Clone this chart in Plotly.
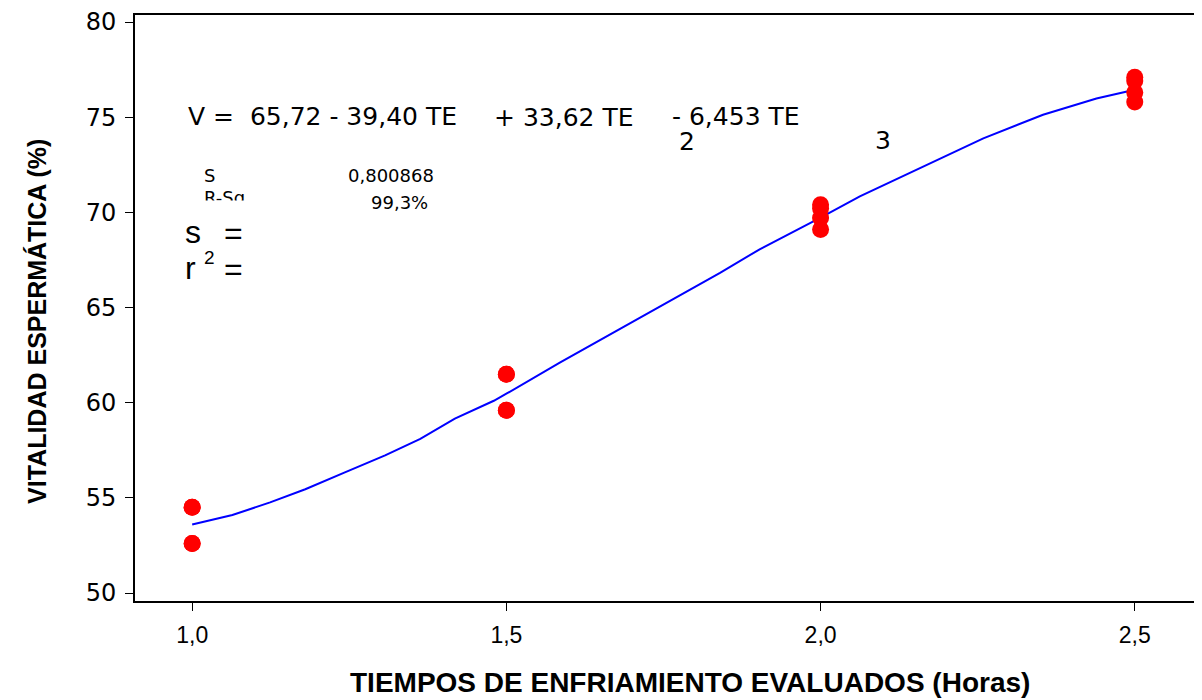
import plotly.graph_objects as go

x_obs = [1.0, 1.0, 1.0, 1.0, 1.5, 1.5, 1.5, 1.5, 2.0, 2.0, 2.0, 2.0, 2.5, 2.5, 2.5, 2.5]
y_obs = [54.5, 54.5, 52.6, 52.6, 61.5, 61.5, 59.6, 59.6, 70.4, 70.2, 69.7, 69.1, 77.1, 76.9, 76.3, 75.8]

# Fitted curve
x_fit = [1.0, 1.064, 1.124, 1.18, 1.243, 1.307, 1.363, 1.418, 1.48, 1.5, 1.585, 1.713,
         1.84, 1.903, 2.0, 2.0625, 2.158, 2.259, 2.354, 2.439, 2.5]
y_fit = [53.6, 54.1, 54.76, 55.45, 56.34, 57.23, 58.1, 59.16, 60.1, 60.47, 62.11, 64.47,
         66.82, 68.06, 69.72, 70.84, 72.32, 73.89, 75.13, 75.98, 76.44]

x_ticks = [1.0, 1.5, 2.0, 2.5]
y_ticks = [50, 55, 60, 65, 70, 75, 80]

# page has an 8px body margin: figure is drawn starting at (8, 8)
OFF = 8
W, H = 1202 - OFF, 700 - OFF
ML, MR, MT, MB = 135 - OFF, 0, 13 - OFF, H - (601 - OFF)
PW, PH = W - ML - MR, H - MT - MB


def px(X):
    return (X - OFF - ML) / PW


def py(Y):
    return (H - MB - (Y - OFF)) / PH


fig = go.Figure()
fig.add_trace(go.Scatter(x=x_fit, y=y_fit, mode="lines",
                         line=dict(color="#0000ff", width=2), showlegend=False))
fig.add_trace(go.Scatter(x=x_obs, y=y_obs, mode="markers",
                         marker=dict(color="#ff0000", size=17), showlegend=False))

LIB = "Liberation Sans, Arial, sans-serif"
DJV = "DejaVu Sans, Verdana, sans-serif"


def ann(text, X, Y, size, family, **kw):
    d = dict(text=text, x=px(X), y=py(Y), xref="paper", yref="paper",
             xanchor="left", yanchor="middle", showarrow=False,
             font=dict(size=size, family=family, color="black"))
    d.update(kw)
    return d


annotations = [
    ann("V =  65,72 - 39,40 TE", 186, 115, 25, DJV),
    ann("+ 33,62 TE", 492, 116, 25, DJV),
    ann("- 6,453 TE", 670, 115, 25, DJV),
    ann("2", 677, 140, 25, DJV),
    ann("3", 873, 139, 25, DJV),
    ann("S", 202, 174, 18, DJV),
    ann("0,800868", 346, 174, 18, DJV),
    ann("R-Sq", 202, 196, 18, DJV),
    # mask that hides the lower part of the "R-Sq" label
    dict(text="", x=px(196), y=py(199), xref="paper", yref="paper",
         xanchor="left", yanchor="top", showarrow=False, width=70, height=20,
         bgcolor="white", borderpad=0),
    ann("99,3%", 369, 201, 18, DJV),
    ann("s", 183, 231, 32, LIB),
    ann("=", 222, 232, 32, LIB),
    ann("r", 183, 267, 32, LIB),
    ann("2", 202, 256, 19, LIB),
    ann("=", 222, 268, 32, LIB),
    # axis titles
    dict(text="<b>TIEMPOS DE ENFRIAMIENTO EVALUADOS (Horas)</b>", x=px(690), y=py(683),
         xref="paper", yref="paper", xanchor="center", yanchor="middle", showarrow=False,
         font=dict(size=28, family=LIB, color="black")),
    dict(text="<b>VITALIDAD ESPERMÁTICA (%)</b>", x=px(37), y=py(321), textangle=-90,
         xref="paper", yref="paper", xanchor="center", yanchor="middle", showarrow=False,
         font=dict(size=25, family=LIB, color="black")),
]

fig.update_layout(
    width=W, height=H,
    margin=dict(l=ML, r=MR, t=MT, b=MB),
    paper_bgcolor="white", plot_bgcolor="white",
    separators=",.",
    annotations=annotations,
    xaxis=dict(range=[0.909, 2.607], tickvals=x_ticks, tickformat=".1f",
               showgrid=False, zeroline=False, showline=True, linecolor="black",
               linewidth=2, mirror=True, ticks="outside", ticklen=8, tickwidth=1,
               tickcolor="black", ticklabelstandoff=4, ticklabeloverflow="allow",
               tickfont=dict(size=23, family=LIB, color="black")),
    yaxis=dict(range=[49.58, 80.37], tickvals=y_ticks,
               showgrid=False, zeroline=False, showline=True, linecolor="black",
               linewidth=2, mirror=False, ticks="outside", ticklen=8, tickwidth=1,
               tickcolor="black", ticklabelstandoff=4, ticklabeloverflow="allow",
               tickfont=dict(size=24, family=DJV, color="black")),
)

fig.write_html("out.html")
